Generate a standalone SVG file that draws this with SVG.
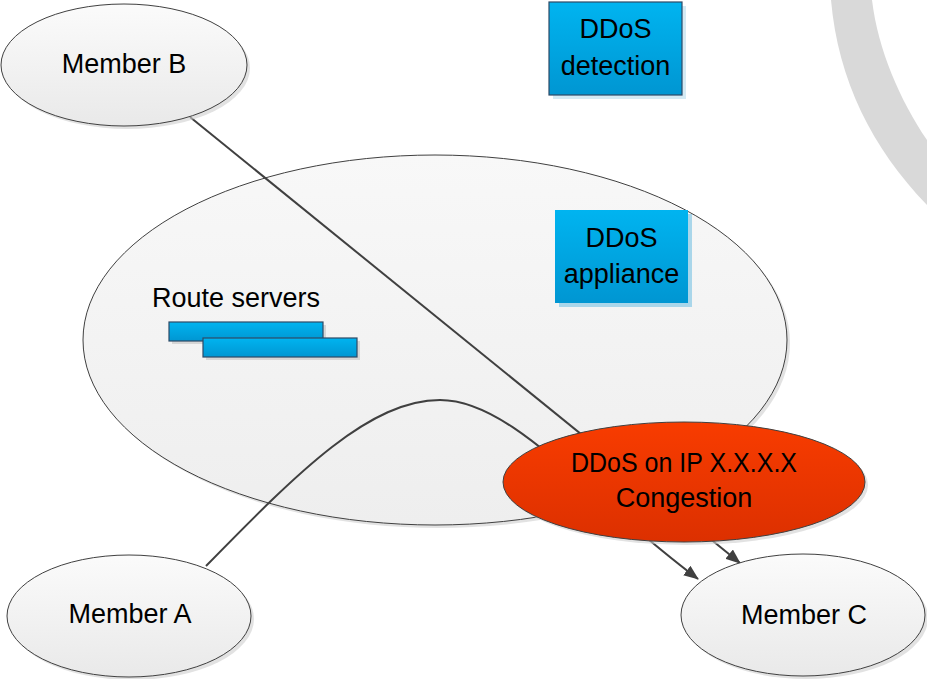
<svg xmlns="http://www.w3.org/2000/svg" width="927" height="679" viewBox="0 0 927 679">
<style>
  text { font-family: "Liberation Sans", Arial, sans-serif; font-size: 27px; fill: #000; }
  .mid { text-anchor: middle; }
  .ell { fill: url(#gEll); stroke: #404040; stroke-width: 1; }
  .shadow { fill: #cfcfcf; opacity: 0.6; }
  .conn { fill: none; stroke: #404040; stroke-width: 2; }
  .blue { fill: url(#gBlue); }
  .bluebd { fill: url(#gBlue); stroke: #2d4a66; stroke-width: 1.2; }
  .bshadow { fill: #a9d6ea; }
</style>
<defs>
  <linearGradient id="gEll" x1="0" y1="0" x2="0" y2="1">
    <stop offset="0" stop-color="#fbfbfb"/>
    <stop offset="1" stop-color="#e9e9e9"/>
  </linearGradient>
  <linearGradient id="gBig" x1="0" y1="0" x2="0" y2="1">
    <stop offset="0" stop-color="#f8f8f8"/>
    <stop offset="1" stop-color="#eeeeee"/>
  </linearGradient>
  <linearGradient id="gBlue" x1="0" y1="0" x2="0" y2="1">
    <stop offset="0" stop-color="#00b4f0"/>
    <stop offset="1" stop-color="#0096d2"/>
  </linearGradient>
  <linearGradient id="gRed" x1="0" y1="0" x2="0" y2="1">
    <stop offset="0" stop-color="#f83c00"/>
    <stop offset="1" stop-color="#dc3000"/>
  </linearGradient>
  <marker id="arrow" markerUnits="userSpaceOnUse" markerWidth="15" markerHeight="12" viewBox="0 0 15 12" refX="14" refY="6" orient="auto">
    <path d="M0,0 L15,6 L0,12 Z" fill="#404040"/>
  </marker>
</defs>

<rect width="927" height="679" fill="#ffffff"/>

<!-- decorative grey arc -->
<path d="M831,0 C838,80 872,148 927,205 L927,140 C900,100 878,50 872,0 Z" fill="#d9d9d9"/>

<g id="ixp-network">
  <ellipse class="shadow" cx="438" cy="343" rx="352" ry="185"/>
  <ellipse cx="435" cy="340" rx="352" ry="185" fill="url(#gBig)" stroke="#404040" stroke-width="1"/>
</g>

<g id="ddos-detection">
  <rect class="bshadow" x="553" y="6" width="133" height="93" opacity="0.5"/>
  <rect class="bluebd" x="549" y="2" width="133" height="93"/>
  <text class="mid" x="615.5" y="38">DDoS</text>
  <text class="mid" x="615.5" y="75">detection</text>
</g>

<g id="ddos-appliance">
  <rect class="bshadow" x="559" y="214" width="133" height="93"/>
  <rect class="blue" x="555" y="210" width="133" height="93"/>
  <text class="mid" x="621.5" y="247">DDoS</text>
  <text class="mid" x="621.5" y="283">appliance</text>
</g>

<g id="route-servers">
  <text x="152" y="307">Route servers</text>
  <rect x="172" y="325" width="154" height="19" fill="#d6d6d6"/>
  <rect class="bluebd" x="169" y="322" width="154" height="19"/>
  <rect x="206" y="341" width="154" height="19" fill="#d6d6d6"/>
  <rect class="bluebd" x="203" y="338" width="154" height="19"/>
</g>

<g id="connectors">
  <path class="conn" d="M190,117 L740,563" marker-end="url(#arrow)"/>
  <path class="conn" d="M206,566 C300,470 370,400 440,400 C510,400 580,490 698,579" marker-end="url(#arrow)"/>
</g>

<g id="ddos-attack">
  <ellipse class="shadow" cx="687" cy="485" rx="181" ry="60"/>
  <ellipse cx="684" cy="482" rx="181" ry="60" fill="url(#gRed)" stroke="#404040" stroke-width="1"/>
  <text class="mid" x="684" y="472" textLength="226" lengthAdjust="spacingAndGlyphs">DDoS on IP X.X.X.X</text>
  <text class="mid" x="684" y="507">Congestion</text>
</g>

<g id="member-b">
  <ellipse class="shadow" cx="127" cy="68" rx="123" ry="61"/>
  <ellipse class="ell" cx="124" cy="65" rx="123" ry="61"/>
  <text class="mid" x="124" y="73">Member B</text>
</g>

<g id="member-a">
  <ellipse class="shadow" cx="132" cy="619" rx="122" ry="61"/>
  <ellipse class="ell" cx="129" cy="616" rx="122" ry="61"/>
  <text class="mid" x="130" y="623">Member A</text>
</g>

<g id="member-c">
  <ellipse class="shadow" cx="806" cy="618" rx="122" ry="61"/>
  <ellipse class="ell" cx="803" cy="615" rx="122" ry="61"/>
  <text class="mid" x="804" y="624">Member C</text>
</g>
</svg>
